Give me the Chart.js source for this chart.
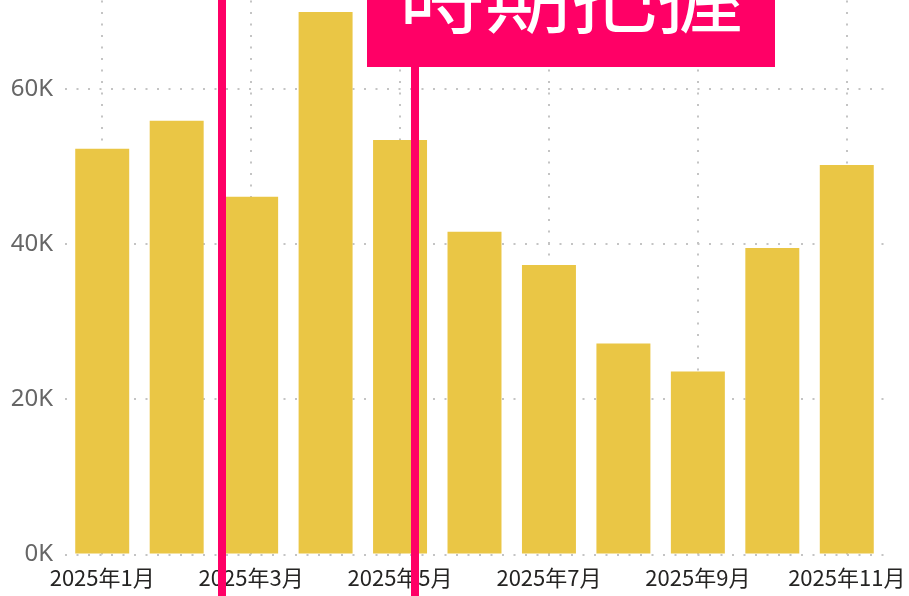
<!DOCTYPE html>
<html>
<head>
<meta charset="utf-8">
<script src="https://cdn.jsdelivr.net/npm/chart.js@4.4.1/dist/chart.umd.min.js"></script>
<style>
html, body { margin: 0; padding: 0; background: #fff; overflow: hidden; width: 909px; height: 596px; }
#wrap { position: absolute; left: 0; top: -26px; width: 909px; height: 627px; }
.linea { position: absolute; background: #ff0066; }
#caja { position: absolute; left: 367px; top: 0; width: 408px; height: 67px; background: #ff0066; overflow: hidden; }
#titulo { position: absolute; left: 0; right: 0; top: -53px; text-align: center; color: #fff; font: 86px/1 "Noto Sans CJK JP"; white-space: nowrap; }
</style>
</head>
<body>
<div id="wrap"><canvas id="grafico"></canvas></div>
<div class="linea" style="left:218px; top:0; width:8px; height:596px;"></div>
<div class="linea" style="left:411px; top:60px; width:8px; height:536px;"></div>
<div id="caja"><div id="titulo">時期把握</div></div>
<script>
// datos
const meses = ["2025年1月", "2025年2月", "2025年3月", "2025年4月", "2025年5月", "2025年6月",
               "2025年7月", "2025年8月", "2025年9月", "2025年10月", "2025年11月"];
const ventas = [52300, 55900, 46100, 69900, 53400, 41600, 37300, 27200, 23600, 39500, 50200];
const ticksY = [0, 20000, 40000, 60000];

const ctx = document.getElementById("grafico").getContext("2d");

new Chart(ctx, {
    type: "bar",
    data: {
        labels: meses,
        datasets: [{
            data: ventas,
            backgroundColor: "#eac645",
            borderWidth: 0,
            barPercentage: 0.725,
            categoryPercentage: 1
        }]
    },
    options: {
        responsive: true,
        maintainAspectRatio: false,
        animation: false,
        layout: { padding: { top: 0, right: 25, bottom: 0, left: 0 } },
        plugins: {
            legend: { display: false },
            tooltip: { enabled: false }
        },
        scales: {
            x: {
                afterFit: scale => { scale.paddingRight = 0; scale.paddingLeft = 0; },
                grid: {
                    offset: false,
                    drawTicks: false,
                    lineWidth: 2,
                    color: c => (c.index % 2 === 0 ? "#c4c4c4" : "rgba(0,0,0,0)")
                },
                border: { display: false, dash: [2, 9.5] },
                ticks: {
                    autoSkip: false,
                    maxRotation: 0,
                    padding: 10,
                    color: "#252423",
                    font: { family: "Noto Sans CJK JP", size: 22 },
                    callback: (v, i) => (i % 2 === 0 ? meses[i] : "")
                }
            },
            y: {
                min: 0,
                max: 71400,
                afterBuildTicks: scale => { scale.ticks = ticksY.map(v => ({ value: v })); },
                afterFit: scale => { scale.width = 65; },
                grid: { drawTicks: false, lineWidth: 2, color: "#c4c4c4" },
                border: { display: false, dash: [2, 9.5] },
                ticks: {
                    padding: 12,
                    color: "#666666",
                    font: { family: "Noto Sans", size: 24 },
                    callback: v => (v / 1000) + "K"
                }
            }
        }
    }
});
</script>
</body>
</html>
